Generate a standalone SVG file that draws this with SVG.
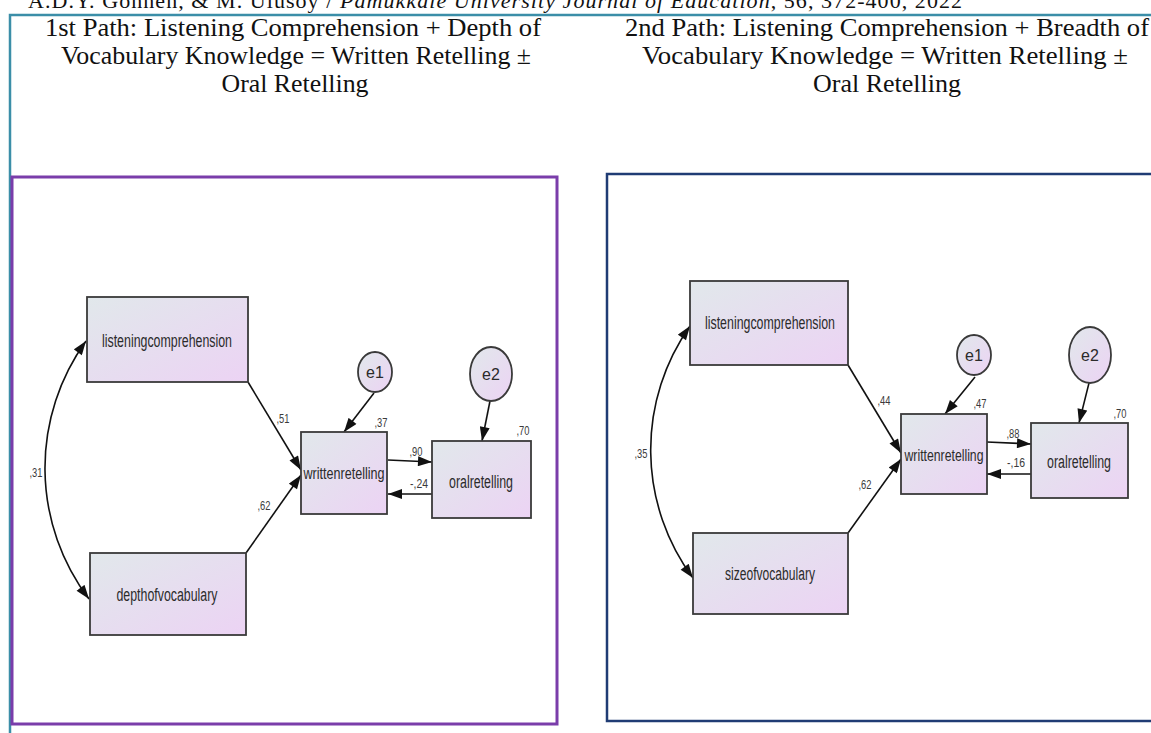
<svg xmlns="http://www.w3.org/2000/svg" width="1151" height="733" viewBox="0 0 1151 733">
  <style>
    .title { font-family: "Liberation Serif", "Times New Roman", serif; font-size: 26px; fill: #111; text-anchor: middle; }
    .header { font-family: "Liberation Serif", "Times New Roman", serif; font-size: 22px; fill: #111; }
    .box { fill: url(#nodeFill); stroke: #3a3a3a; stroke-width: 1.8; }
    .err { fill: url(#nodeFill); stroke: #3a3a3a; stroke-width: 1.8; }
    .lbl { font-family: "Liberation Sans", Arial, sans-serif; font-size: 18px; fill: #2b2b2b; text-anchor: middle; }
    .lbl-s { font-family: "Liberation Sans", Arial, sans-serif; font-size: 16px; fill: #2b2b2b; text-anchor: middle; }
    .elbl { font-family: "Liberation Sans", Arial, sans-serif; font-size: 16px; fill: #2b2b2b; text-anchor: middle; }
    .num { font-family: "Liberation Sans", Arial, sans-serif; font-size: 13px; fill: #3a3a3a; text-anchor: middle; }
    .path { fill: none; stroke: #111; stroke-width: 1.6; marker-end: url(#ah); }
    .cov { fill: none; stroke: #111; stroke-width: 1.6; marker-start: url(#ah); marker-end: url(#ah); }
  </style>
  <defs>
    <linearGradient id="nodeFill" x1="0" y1="0" x2="1" y2="1">
      <stop offset="0" stop-color="#e1e8eb"/>
      <stop offset="1" stop-color="#ecd3f4"/>
    </linearGradient>
    <marker id="ah" viewBox="0 0 14 10" refX="14" refY="5" markerWidth="15" markerHeight="10" markerUnits="userSpaceOnUse" orient="auto-start-reverse">
      <path d="M0,0 L14,5 L0,10 z" fill="#111"/>
    </marker>
  </defs>

  <rect x="0" y="0" width="1151" height="733" fill="#ffffff"/>

  <!-- running page header, cut off at the top edge -->
  <text class="header" x="28" y="8" textLength="934">A.D.Y. Gönnen, &amp; M. Ulusoy / <tspan font-style="italic">Pamukkale University Journal of Education</tspan>, 56, 372-400, 2022</text>

  <!-- outer frame -->
  <g id="frame" fill="none">
    <path d="M10,733 L10,15 L1151,15" stroke="#3b8ea8" stroke-width="2.5"/>
  </g>

  <!-- path titles -->
  <g id="title-1">
    <text class="title" x="293" y="36" textLength="496" lengthAdjust="spacingAndGlyphs">1st Path: Listening Comprehension + Depth of</text>
    <text class="title" x="296" y="64" textLength="470" lengthAdjust="spacingAndGlyphs">Vocabulary Knowledge = Written Retelling ±</text>
    <text class="title" x="295" y="92" textLength="147" lengthAdjust="spacingAndGlyphs">Oral Retelling</text>
  </g>
  <g id="title-2">
    <text class="title" x="887" y="36" textLength="524" lengthAdjust="spacingAndGlyphs">2nd Path: Listening Comprehension + Breadth of</text>
    <text class="title" x="885" y="64" textLength="486" lengthAdjust="spacingAndGlyphs">Vocabulary Knowledge = Written Retelling ±</text>
    <text class="title" x="887" y="92" textLength="148" lengthAdjust="spacingAndGlyphs">Oral Retelling</text>
  </g>

  <!-- panel borders -->
  <rect id="panel-1" x="12" y="177" width="545" height="547" fill="none" stroke="#7a3daa" stroke-width="3"/>
  <rect id="panel-2" x="607" y="174" width="560" height="547" fill="none" stroke="#203c74" stroke-width="2.5"/>

  <!-- ===== first path model ===== -->
  <g id="m1-connectors">
    <path class="cov" d="M86,341 A217,217 0 0 0 89,599"/>
    <line class="path" x1="248" y1="382" x2="301" y2="470"/>
    <line class="path" x1="246" y1="553" x2="301" y2="475"/>
    <line class="path" x1="374" y1="393" x2="344" y2="432"/>
    <line class="path" x1="490" y1="401" x2="482" y2="441"/>
    <line class="path" x1="388" y1="460" x2="432" y2="462"/>
    <line class="path" x1="432" y1="494" x2="388" y2="494"/>
  </g>
  <g id="m1-listening">
    <rect class="box" x="87" y="297" width="161" height="85"/>
    <text class="lbl" x="167" y="347" textLength="130" lengthAdjust="spacingAndGlyphs">listeningcomprehension</text>
  </g>
  <g id="m1-depth">
    <rect class="box" x="90" y="553" width="156" height="82"/>
    <text class="lbl" x="167" y="601" textLength="101" lengthAdjust="spacingAndGlyphs">depthofvocabulary</text>
  </g>
  <g id="m1-written">
    <rect class="box" x="301" y="432" width="86" height="82"/>
    <text class="lbl-s" x="344" y="479" textLength="81" lengthAdjust="spacingAndGlyphs">writtenretelling</text>
  </g>
  <g id="m1-oral">
    <rect class="box" x="432" y="441" width="99" height="77"/>
    <text class="lbl" x="481" y="488" textLength="64" lengthAdjust="spacingAndGlyphs">oralretelling</text>
  </g>
  <g id="m1-e1">
    <ellipse class="err" cx="375" cy="372" rx="17" ry="20"/>
    <text class="elbl" x="375" y="378">e1</text>
  </g>
  <g id="m1-e2">
    <ellipse class="err" cx="491" cy="374" rx="21" ry="27"/>
    <text class="elbl" x="491" y="380">e2</text>
  </g>
  <g id="m1-estimates">
    <text class="num" x="36" y="477" textLength="13" lengthAdjust="spacingAndGlyphs">,31</text>
    <text class="num" x="283" y="423" textLength="13" lengthAdjust="spacingAndGlyphs">,51</text>
    <text class="num" x="264" y="510" textLength="13" lengthAdjust="spacingAndGlyphs">,62</text>
    <text class="num" x="381" y="427" textLength="13" lengthAdjust="spacingAndGlyphs">,37</text>
    <text class="num" x="523" y="435" textLength="13" lengthAdjust="spacingAndGlyphs">,70</text>
    <text class="num" x="416" y="456" textLength="13" lengthAdjust="spacingAndGlyphs">,90</text>
    <text class="num" x="419" y="488" textLength="18" lengthAdjust="spacingAndGlyphs">-,24</text>
  </g>

  <!-- ===== second path model ===== -->
  <g id="m2-connectors">
    <path class="cov" d="M690,326 A215,215 0 0 0 693,578"/>
    <line class="path" x1="848" y1="365" x2="901" y2="453"/>
    <line class="path" x1="848" y1="533" x2="901" y2="459"/>
    <line class="path" x1="975" y1="377" x2="945" y2="414"/>
    <line class="path" x1="1089" y1="383" x2="1079" y2="423"/>
    <line class="path" x1="987" y1="442" x2="1031" y2="444"/>
    <line class="path" x1="1031" y1="474" x2="987" y2="474"/>
  </g>
  <g id="m2-listening">
    <rect class="box" x="690" y="281" width="158" height="84"/>
    <text class="lbl" x="770" y="329" textLength="130" lengthAdjust="spacingAndGlyphs">listeningcomprehension</text>
  </g>
  <g id="m2-size">
    <rect class="box" x="693" y="533" width="155" height="81"/>
    <text class="lbl" x="770" y="580" textLength="90" lengthAdjust="spacingAndGlyphs">sizeofvocabulary</text>
  </g>
  <g id="m2-written">
    <rect class="box" x="901" y="414" width="86" height="80"/>
    <text class="lbl-s" x="944" y="461" textLength="79" lengthAdjust="spacingAndGlyphs">writtenretelling</text>
  </g>
  <g id="m2-oral">
    <rect class="box" x="1031" y="423" width="97" height="75"/>
    <text class="lbl" x="1079" y="468" textLength="64" lengthAdjust="spacingAndGlyphs">oralretelling</text>
  </g>
  <g id="m2-e1">
    <ellipse class="err" cx="974" cy="355" rx="17" ry="20"/>
    <text class="elbl" x="974" y="361">e1</text>
  </g>
  <g id="m2-e2">
    <ellipse class="err" cx="1090" cy="355" rx="21" ry="28"/>
    <text class="elbl" x="1090" y="361">e2</text>
  </g>
  <g id="m2-estimates">
    <text class="num" x="641" y="458" textLength="13" lengthAdjust="spacingAndGlyphs">,35</text>
    <text class="num" x="884" y="405" textLength="13" lengthAdjust="spacingAndGlyphs">,44</text>
    <text class="num" x="865" y="489" textLength="13" lengthAdjust="spacingAndGlyphs">,62</text>
    <text class="num" x="980" y="408" textLength="13" lengthAdjust="spacingAndGlyphs">,47</text>
    <text class="num" x="1120" y="418" textLength="13" lengthAdjust="spacingAndGlyphs">,70</text>
    <text class="num" x="1013" y="438" textLength="13" lengthAdjust="spacingAndGlyphs">,88</text>
    <text class="num" x="1016" y="467" textLength="18" lengthAdjust="spacingAndGlyphs">-,16</text>
  </g>
</svg>
